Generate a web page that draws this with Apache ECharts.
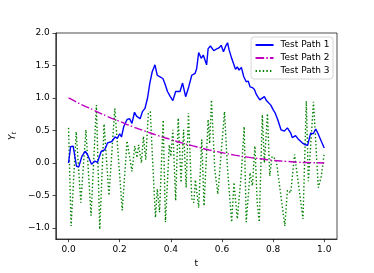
<!DOCTYPE html>
<html><head><meta charset="utf-8">
<script src="https://cdn.jsdelivr.net/npm/echarts@6/dist/echarts.min.js"></script>
<style>html,body{margin:0;padding:0;background:#fff}#c{width:374px;height:273px}</style>
</head><body><div id="c"></div>
<script>
const seriesNames = ['Test Path 1', 'Test Path 2', 'Test Path 3'];
const xTicks = [0.0, 0.2, 0.4, 0.6, 0.8, 1.0];
const yTicks = [-1.0, -0.5, 0.0, 0.5, 1.0, 1.5, 2.0];

const blueT = [0.000,0.008,0.018,0.031,0.040,0.052,0.065,0.074,0.090,0.103,0.113,0.128,0.141,0.153,0.169,0.182,0.191,0.200,0.207,0.216,0.229,0.239,0.248,0.258,0.266,0.280,0.289,0.299,0.309,0.318,0.327,0.338,0.347,0.356,0.369,0.377,0.387,0.398,0.408,0.419,0.436,0.446,0.458,0.470,0.482,0.495,0.501,0.509,0.519,0.527,0.533,0.540,0.546,0.555,0.562,0.568,0.578,0.588,0.597,0.606,0.616,0.622,0.628,0.638,0.647,0.653,0.660,0.667,0.676,0.685,0.695,0.703,0.710,0.719,0.727,0.735,0.748,0.755,0.766,0.774,0.780,0.791,0.800,0.808,0.818,0.831,0.844,0.856,0.869,0.875,0.888,0.900,0.917,0.926,0.935,0.941,0.947,0.957,0.967,0.976,0.989,1.000];
const blueY = [0.00,0.25,0.26,-0.05,-0.06,0.10,0.18,0.13,-0.02,0.03,0.01,0.18,0.20,0.31,0.33,0.40,0.38,0.45,0.40,0.56,0.67,0.68,0.61,0.78,0.72,0.68,0.79,0.84,1.00,1.23,1.40,1.51,1.35,1.33,1.30,1.22,1.10,1.02,0.96,1.10,1.10,1.23,1.02,1.17,1.35,1.38,1.45,1.70,1.61,1.66,1.65,1.51,1.76,1.80,1.77,1.73,1.75,1.77,1.81,1.71,1.81,1.85,1.74,1.61,1.51,1.44,1.48,1.43,1.47,1.33,1.25,1.26,1.17,1.16,1.13,1.05,0.97,0.97,1.02,0.96,0.99,0.89,0.82,0.77,0.67,0.51,0.49,0.54,0.46,0.39,0.42,0.36,0.30,0.28,0.27,0.28,0.46,0.45,0.52,0.45,0.33,0.23];

const magentaT = [0.00,0.05,0.10,0.15,0.20,0.25,0.30,0.35,0.40,0.45,0.50,0.55,0.60,0.65,0.70,0.75,0.80,0.85,0.90,0.95,1.00];
const magentaY = [1.00,0.90,0.81,0.72,0.64,0.56,0.49,0.42,0.36,0.30,0.25,0.20,0.16,0.12,0.09,0.065,0.04,0.025,0.01,0.005,0.00];

const greenT = [0.000,0.010,0.030,0.048,0.068,0.088,0.109,0.122,0.139,0.158,0.181,0.210,0.229,0.248,0.259,0.268,0.274,0.285,0.293,0.302,0.312,0.320,0.328,0.340,0.347,0.356,0.370,0.379,0.394,0.400,0.408,0.419,0.429,0.440,0.450,0.460,0.469,0.482,0.490,0.496,0.509,0.521,0.530,0.546,0.552,0.559,0.572,0.584,0.598,0.610,0.622,0.638,0.647,0.660,0.675,0.687,0.695,0.710,0.719,0.729,0.738,0.746,0.758,0.766,0.778,0.787,0.796,0.812,0.829,0.846,0.856,0.869,0.884,0.891,0.917,0.930,0.938,0.958,0.977,0.989,1.000];
const greenY = [0.54,-0.97,0.48,-0.61,0.51,-0.81,0.89,-1.02,0.60,-0.50,0.84,-0.73,0.34,-0.13,0.26,0.08,0.28,0.00,0.41,0.05,0.76,0.79,0.10,-0.84,-0.40,-0.76,0.66,-0.91,0.28,0.10,0.51,-0.58,0.69,-0.30,0.51,-0.38,0.77,-0.55,-0.61,-0.26,-0.69,0.36,-0.66,0.67,0.30,0.97,-0.10,-0.48,0.20,0.79,-0.10,-0.91,-0.30,-0.86,-0.20,0.56,-0.91,-0.15,-0.35,0.26,-0.61,-0.91,0.74,0.00,0.76,-0.20,0.10,0.05,-0.46,-0.97,-0.42,-0.46,0.13,0.10,-0.86,0.95,-0.28,0.94,-0.38,-0.20,0.15];

const zip = (a, b) => a.map((v, i) => [v, b[i]]);
const fmt = v => { const s = Math.abs(v).toFixed(1); return (v < -1e-9 ? '\u2212' : '') + s; };
const font = 'DejaVu Sans';
const fs = 9;

const chart = echarts.init(document.getElementById('c'), null, {renderer: 'canvas'});
chart.setOption({
  animation: false,
  backgroundColor: '#fff',
  textStyle: {fontFamily: font},
  grid: {left: 46, right: 37, top: 33, bottom: 33, show: true, borderColor: '#000', borderWidth: 0.7, backgroundColor: 'transparent'},
  xAxis: {
    type: 'value', min: -0.05, max: 1.05,
    name: 't', nameLocation: 'middle', nameGap: 20,
    nameTextStyle: {fontSize: fs, color: '#000', fontFamily: font},
    axisLine: {show: true, onZero: false, lineStyle: {color: '#000', width: 0.7}},
    axisTick: {show: true, length: 3.2, lineStyle: {color: '#000', width: 0.7}, customValues: xTicks},
    axisLabel: {fontSize: fs, color: '#000', margin: 6, fontFamily: font, customValues: xTicks, formatter: fmt},
    splitLine: {show: false}
  },
  yAxis: {
    type: 'value', min: -1.17, max: 2.0,
    name: '{a|Y}{b|t}', nameLocation: 'middle', nameGap: 29, nameRotate: 90,
    nameTextStyle: {fontSize: fs, color: '#000', fontFamily: font,
      rich: {a: {fontSize: fs, fontFamily: font, fontStyle: 'italic', color: '#000'}, b: {fontSize: 6.3, fontFamily: font, fontStyle: 'italic', color: '#000', padding: [3, 0, 0, 0]}}},
    axisLine: {show: true, onZero: false, lineStyle: {color: '#000', width: 0.7}},
    axisTick: {show: true, length: 3.2, lineStyle: {color: '#000', width: 0.7}, customValues: yTicks},
    axisLabel: {fontSize: fs, color: '#000', margin: 6, fontFamily: font, customValues: yTicks, formatter: fmt},
    splitLine: {show: false}
  },
  legend: {
    orient: 'vertical', right: 41, top: 37,
    backgroundColor: 'rgba(255,255,255,0.8)', borderColor: '#cccccc', borderWidth: 0.8, borderRadius: 3,
    padding: [3.5, 3.5, 3.5, 3.5], itemGap: 4, itemWidth: 18, itemHeight: 9,
    itemStyle: {opacity: 0},
    textStyle: {fontSize: fs, color: '#000', fontFamily: font, padding: [0, 0, 0, 2]},
    data: seriesNames
  },
  series: [
    {name: seriesNames[0], type: 'line', data: zip(blueT, blueY), symbol: 'none', lineStyle: {color: '#0000ff', width: 1.4}, itemStyle: {color: '#0000ff'}, z: 3},
    {name: seriesNames[1], type: 'line', data: zip(magentaT, magentaY), symbol: 'none', smooth: true, lineStyle: {color: '#bf00bf', width: 1.4, type: [8.6, 2.2, 1.4, 2.2]}, itemStyle: {color: '#bf00bf'}, z: 4},
    {name: seriesNames[2], type: 'line', data: zip(greenT, greenY), symbol: 'none', lineStyle: {color: '#008000', width: 1.4, type: [1.4, 2.2]}, itemStyle: {color: '#008000'}, z: 2}
  ]
});
</script></body></html>
